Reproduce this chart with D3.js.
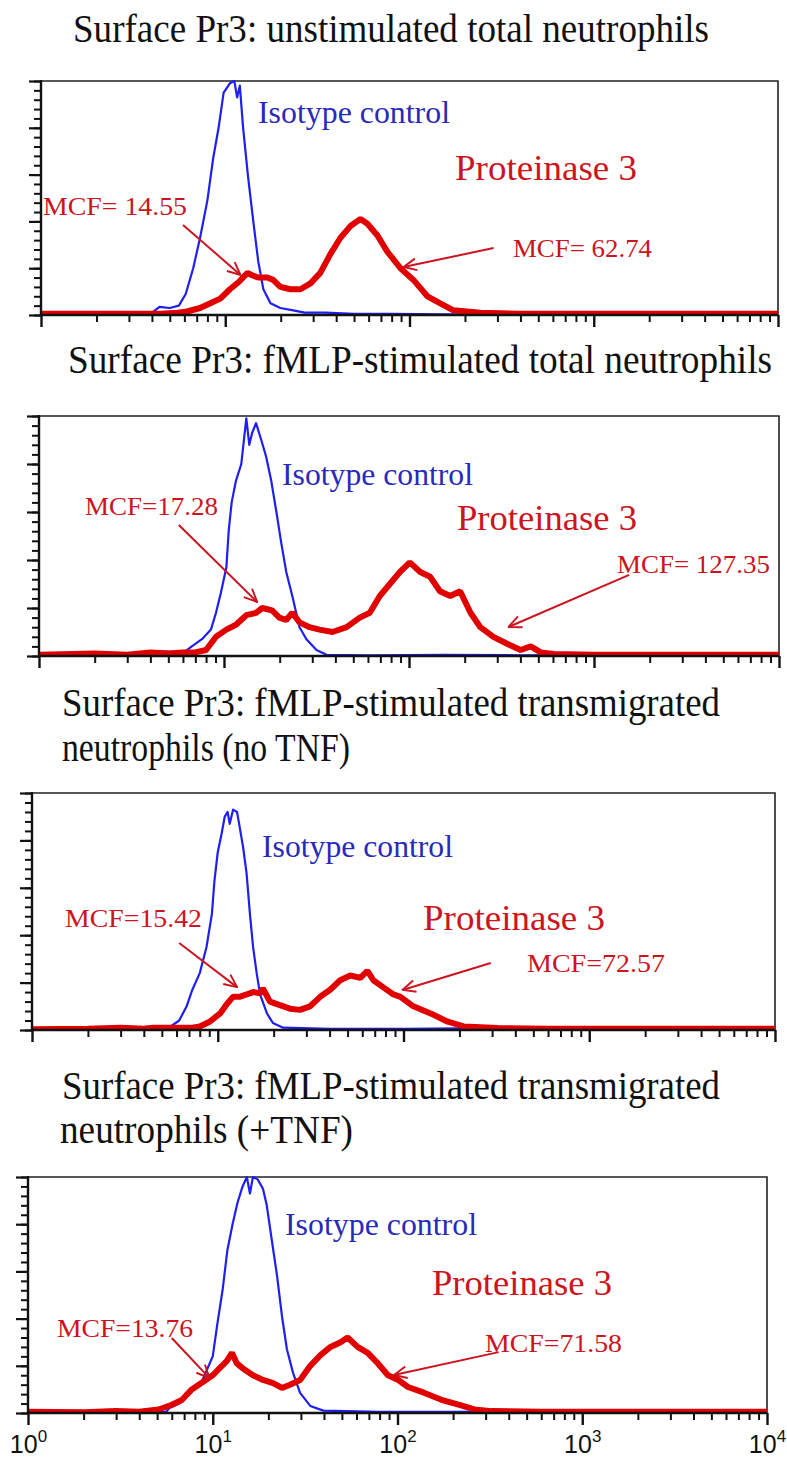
<!DOCTYPE html>
<html>
<head>
<meta charset="utf-8">
<script src="https://cdn.jsdelivr.net/npm/d3@7"></script>
<style>
body { margin: 0; background: #fff; }
svg { display: block; }
</style>
</head>
<body>
<div id="chart"></div>
<script>
// ---- data: [fluorescence, % of max count] ----
var p1Blue = [[1,0.5],[1.3,0],[2,0.5],[3,0],[4,1],[4.4,3.5],[5,3],[5.6,4],[6.1,9],[6.7,20],[7.3,33],[8,49],[8.6,67],[9.2,80],[9.8,95],[10.6,99],[11.2,100],[11.6,93],[12,98],[12.5,80],[13.3,59],[14.2,40],[15.1,23],[16.1,11],[17.6,5],[19.9,3],[23.4,2],[27,1],[35,1],[50,0.5],[80,0.5],[150,0.3],[500,0.3],[1000,1],[2000,0.5],[5000,0.3],[10000,0]];
var p1Red = [[1,0.5],[3,0.5],[4.5,0.5],[5.5,1],[6.2,1.5],[7.3,3],[8.3,5],[9.4,7],[10.6,11],[11.8,14],[13.2,18],[14,17],[15.1,16],[16.9,16],[18.2,15],[19.9,12],[22.6,11],[25.6,11],[29,13.5],[32.8,18],[37.2,26],[42.2,33],[47.8,38],[54.2,41],[59.1,39],[67,34],[75.9,27],[89.3,20],[105,15],[125,8],[147,5],[173,2],[243,1],[400,0.5],[10000,0.5]];

var p2Blue = [[1,0],[2,0.5],[3,0],[3.45,1.5],[4,1],[4.5,2],[5.5,1.5],[6.2,2],[6.7,4],[7.6,7],[8.5,11],[9.05,18],[9.6,26],[10.3,37],[10.6,52],[11,64],[11.6,73],[12.4,80],[13.2,99],[13.7,88],[14.2,93],[14.9,97],[15.9,90],[16.9,83],[18,73],[19.2,60],[20.4,47],[21.7,35],[23.4,25],[25.6,12],[27.9,7],[31.6,2.5],[35.8,0.5],[60,0.3],[150,0.5],[400,0.3],[1000,0.5],[3000,0.8],[10000,0]];
var p2Red = [[1,0.5],[2,1],[3,0.5],[4,1.5],[5,1],[6,1.5],[7,1.5],[8,2.5],[9.05,8],[10.3,11],[11.6,13],[13.2,17],[14.9,18],[16.1,20],[18.2,19],[19.9,16],[21.7,15],[23.4,18],[25.6,14],[29,12],[32.8,11],[38.6,10],[46,12],[54.2,16],[61.4,18],[69.5,25],[78.8,30],[89.3,35],[101,39],[115,35],[130,33],[147,27],[167,25],[189,27],[215,18],[243,12],[286,8],[341,5],[401,2.5],[455,4],[515,1.5],[606,0.8],[1000,0.5],[10000,0.5]];

var p3Blue = [[1,0],[1.5,0.5],[2,0.8],[2.5,0.5],[3,0.8],[4,0.5],[4.86,0.8],[5.3,0.7],[5.7,2],[6.2,4],[6.8,10],[7.3,17],[8,24],[8.7,35],[9.3,49],[9.6,63],[10,75],[10.5,83],[10.9,90],[11.3,92],[11.6,87],[12.1,93],[12.7,92],[13.1,86],[13.7,77],[14.3,66],[14.9,49],[15.5,35],[16.2,24],[16.9,15],[18.4,7],[19.8,3],[22.5,1],[40,0.5],[100,0.5],[300,0.8],[1000,0.5],[3000,1],[10000,0.5]];
var p3Red = [[1,0.3],[2,0.5],[3,1],[4,0.5],[4.5,1],[6,1],[7.3,1],[8,1.5],[9.05,3.5],[10.3,7],[11.2,11],[12.1,14],[13.1,14],[14.3,15],[15.5,16],[16.9,15.5],[17.5,17.5],[19.1,12],[21.6,10.5],[24.5,9],[27.7,8.5],[31.4,10],[35.6,14],[40.3,17],[45.6,21],[51.7,23],[58.6,22],[63.9,25],[68.8,21],[77.9,18],[88.3,15],[96.3,14],[113,10],[140,7],[173,3.5],[211,1.5],[322,0.8],[600,0.5],[10000,0.5]];

var p4Blue = [[1,0.5],[1.5,0.3],[2,0.5],[3,0.3],[4,0.8],[5,0.5],[5.6,0.5],[5.8,2],[6.6,4],[7.7,9],[8.8,14],[10,24],[10.6,38],[11.3,52],[12,69],[12.8,80],[13.6,89],[14.5,96],[15.3,100],[15.9,93],[16.5,100],[17.5,99],[18.7,95],[19.6,88],[20.9,73],[22.3,58],[23.7,41],[25.2,27],[27.2,17],[29.7,8.5],[33.7,3],[39.7,1],[80,0.5],[200,0.5],[1000,0.8],[3000,1],[10000,0.5]];
var p4Red = [[1,0.5],[2,0.3],[3,0.8],[4,0.5],[5.1,1.5],[6,3.5],[6.8,5.5],[7.7,10],[8.8,13],[10,16],[10.9,19],[11.9,22],[12.7,25.5],[13.5,21],[14.5,19],[16.5,16],[18.7,14],[21.2,12.7],[23.7,10.6],[26.2,12],[29.7,14],[33.7,20],[38.3,24.5],[43.4,28],[49.2,30],[53.7,32],[60.8,28],[69,25.5],[78.3,21],[88.8,16],[101,14],[114,11],[140,8.5],[173,5.6],[214,3.5],[261,1.5],[324,0.8],[600,0.5],[10000,0.5]];

// panel titles (one entry per line)
var titleLines = [
  ['Surface Pr3: unstimulated total neutrophils'],
  ['Surface Pr3: fMLP-stimulated total neutrophils'],
  ['Surface Pr3: fMLP-stimulated transmigrated', 'neutrophils (no TNF)'],
  ['Surface Pr3: fMLP-stimulated transmigrated', 'neutrophils (+TNF)']
];
var isoLabel = 'Isotype control';
var protLabel = 'Proteinase  3';
var mcfLowLabels = ['MCF= 14.55', 'MCF=17.28', 'MCF=15.42', 'MCF=13.76'];
var mcfHighLabels = ['MCF= 62.74', 'MCF= 127.35', 'MCF=72.57', 'MCF=71.58'];
// arrows: [from, to] in [fluorescence, % of max]
var arrowsLow = [[[5.9,38.5],[12.1,17.1]], [[5.7,54.6],[15.1,22.5]], [[6.2,36.7],[12.7,18.1]], [[6.0,31.8],[9.6,14.8]]];
var arrowsHigh = [[[286,28.6],[92.8,20.5]], [[1549,33.8],[345,12.1]], [[295,28.3],[98.8,16.9]], [[353,25.8],[95.7,16.1]]];
var decades = [1, 10, 100, 1000, 10000];
var decadeExp = ['0', '1', '2', '3', '4'];

var blues = [p1Blue, p2Blue, p3Blue, p4Blue];
var reds = [p1Red, p2Red, p3Red, p4Red];

// ---- layout ----
var width = 787, height = 1459;
var panels = [
  {left: 41, right: 778, top: 81, bottom: 315,
   titles: [{x: 73, y: 42, w: 636}],
   iso: {x: 258, y: 123, w: 192}, prot: {x: 455, y: 180, w: 182},
   low: {x: 43, y: 215, w: 144}, high: {x: 513, y: 257, w: 139}},
  {left: 39, right: 779, top: 416, bottom: 656,
   titles: [{x: 68, y: 373, w: 704}],
   iso: {x: 282, y: 485, w: 191}, prot: {x: 457, y: 530, w: 180},
   low: {x: 85, y: 515, w: 133}, high: {x: 617, y: 573, w: 153}},
  {left: 32, right: 775, top: 793, bottom: 1030,
   titles: [{x: 62, y: 716, w: 658}, {x: 62, y: 761, w: 288}],
   iso: {x: 262, y: 857, w: 191}, prot: {x: 423, y: 930, w: 182},
   low: {x: 65, y: 927, w: 137}, high: {x: 527, y: 972, w: 138}},
  {left: 28, right: 767, top: 1177, bottom: 1413,
   titles: [{x: 62, y: 1099, w: 658}, {x: 60, y: 1143, w: 293}],
   iso: {x: 285, y: 1235, w: 192}, prot: {x: 432, y: 1295, w: 180},
   low: {x: 57, y: 1337, w: 136}, high: {x: 485, y: 1352, w: 137}}
];

var serif = "'Liberation Serif', 'Times New Roman', serif";
var blueInk = '#2a2ab8', redInk = '#cc1420';

var svg = d3.select('#chart').append('svg')
  .attr('width', width)
  .attr('height', height);

svg.append('rect').attr('width', width).attr('height', height).attr('fill', '#fff');

var defs = svg.append('defs');
defs.append('marker')
  .attr('id', 'arrowHead')
  .attr('viewBox', '0 0 14 14')
  .attr('refX', 13).attr('refY', 7)
  .attr('markerWidth', 15).attr('markerHeight', 15)
  .attr('markerUnits', 'userSpaceOnUse')
  .attr('orient', 'auto')
  .append('path')
  .attr('d', 'M1,1.5 L13,7 L1,12.5')
  .attr('fill', 'none')
  .attr('stroke', redInk)
  .attr('stroke-width', 1.8);

panels.forEach(function (p, i) {
  var x = d3.scaleLog().domain([1, 10000]).range([p.left, p.right]);
  var y = d3.scaleLinear().domain([0, 100]).range([p.bottom, p.top]);
  var g = svg.append('g');

  // title lines: tall, narrow serif like the original
  titleLines[i].forEach(function (t, j) {
    var pos = p.titles[j];
    g.append('text')
      .attr('transform', 'translate(' + pos.x + ',' + pos.y + ') scale(1,1.2)')
      .attr('textLength', pos.w).attr('lengthAdjust', 'spacingAndGlyphs')
      .style('font-family', serif).style('font-size', '33px')
      .attr('fill', '#111')
      .text(t);
  });

  defs.append('clipPath').attr('id', 'clip' + i)
    .append('rect')
    .attr('x', p.left).attr('y', p.top - 1)
    .attr('width', p.right - p.left).attr('height', p.bottom - p.top + 1);

  // frame: thin top/right, heavy left/bottom
  g.append('path')
    .attr('d', 'M' + p.left + ',' + p.top + 'H' + p.right + 'V' + p.bottom)
    .attr('fill', 'none').attr('stroke', '#222').attr('stroke-width', 1.6);

  // y axis ticks
  g.append('g').attr('transform', 'translate(' + p.left + ',0)')
    .call(d3.axisLeft(y).tickValues(d3.range(0, 101, 4)).tickSize(7).tickFormat(''))
    .call(function (a) { a.select('.domain').remove(); a.selectAll('line').attr('stroke', '#111').attr('stroke-width', 2); });
  g.append('g').attr('transform', 'translate(' + p.left + ',0)')
    .call(d3.axisLeft(y).tickValues(d3.range(0, 101, 20)).tickSize(12).tickFormat(''))
    .call(function (a) { a.select('.domain').remove(); a.selectAll('line').attr('stroke', '#111').attr('stroke-width', 2.2); });

  // x axis ticks
  var minors = [];
  decades.slice(0, 4).forEach(function (d) { for (var k = 2; k < 10; k++) minors.push(d * k); });
  g.append('g').attr('transform', 'translate(0,' + p.bottom + ')')
    .call(d3.axisBottom(x).tickValues(minors).tickSize(7).tickFormat(''))
    .call(function (a) { a.select('.domain').remove(); a.selectAll('line').attr('stroke', '#111').attr('stroke-width', 2); });
  var majorAxis = g.append('g').attr('transform', 'translate(0,' + p.bottom + ')')
    .call(d3.axisBottom(x).tickValues(decades).tickSize(12).tickFormat(''))
    .call(function (a) { a.select('.domain').remove(); a.selectAll('line').attr('stroke', '#111').attr('stroke-width', 2.4); });

  if (i === 3) {
    majorAxis.selectAll('.tick text').remove();
    var lbl = majorAxis.selectAll('.tick').append('text')
      .attr('y', 40).attr('text-anchor', 'middle')
      .attr('fill', '#111')
      .style('font-family', "'Liberation Sans', Arial, sans-serif")
      .style('font-size', '25px');
    lbl.append('tspan').text('10');
    lbl.append('tspan').attr('dy', -11).style('font-size', '17px').text(function (d, k) { return decadeExp[k]; });
  }

  // histograms
  var line = d3.line().x(function (d) { return x(d[0]); }).y(function (d) { return y(d[1]); });
  var curves = g.append('g').attr('clip-path', 'url(#clip' + i + ')');
  curves.append('path').datum(blues[i]).attr('d', line)
    .attr('fill', 'none').attr('stroke', '#1f1ff0').attr('stroke-width', 2.2)
    .attr('stroke-linejoin', 'round');
  curves.append('path').datum(reds[i]).attr('d', line)
    .attr('fill', 'none').attr('stroke', '#e00000').attr('stroke-width', 6)
    .attr('stroke-linejoin', 'bevel');

  // heavy left and bottom axis lines
  g.append('path')
    .attr('d', 'M' + p.left + ',' + (p.top - 1) + 'V' + p.bottom + 'H' + p.right)
    .attr('fill', 'none').attr('stroke', '#111').attr('stroke-width', 2.4);

  // labels
  function label(pos, txt, size, color) {
    g.append('text').attr('x', pos.x).attr('y', pos.y)
      .attr('textLength', pos.w).attr('lengthAdjust', 'spacingAndGlyphs')
      .style('font-family', serif).style('font-size', size + 'px')
      .attr('fill', color).text(txt);
  }
  label(p.iso, isoLabel, 31, blueInk);
  label(p.prot, protLabel, 36, redInk);
  label(p.low, mcfLowLabels[i], 26, redInk);
  label(p.high, mcfHighLabels[i], 26, redInk);

  // arrows
  [arrowsLow[i], arrowsHigh[i]].forEach(function (a) {
    g.append('line')
      .attr('x1', x(a[0][0])).attr('y1', y(a[0][1]))
      .attr('x2', x(a[1][0])).attr('y2', y(a[1][1]))
      .attr('stroke', redInk).attr('stroke-width', 2)
      .attr('marker-end', 'url(#arrowHead)');
  });
});
</script>
</body>
</html>
